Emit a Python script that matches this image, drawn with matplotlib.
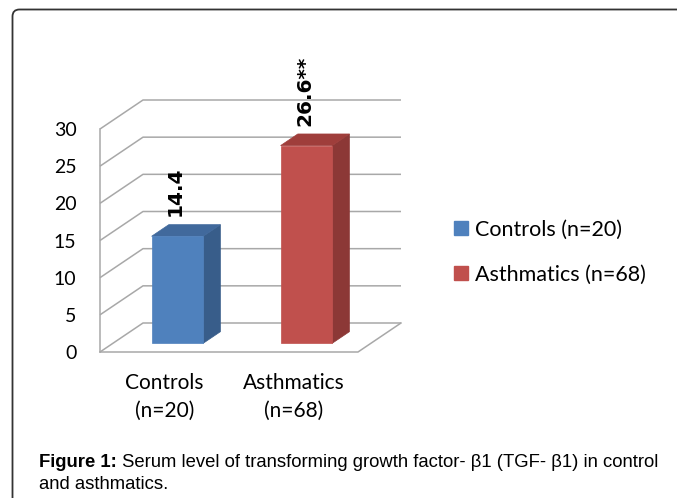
import matplotlib
matplotlib.use("Agg")
import matplotlib.pyplot as plt
from matplotlib.patches import Polygon, Patch
from matplotlib.path import Path
from matplotlib.patches import PathPatch

# ---- data ----
categories = ["Controls\n(n=20)", "Asthmatics\n(n=68)"]
series_names = ["Controls (n=20)", "Asthmatics (n=68)"]
values = [14.4, 26.6]
value_labels = ["14.4", "26.6**"]
yticks = [0, 5, 10, 15, 20, 25, 30]
caption_bold = "Figure 1:"
caption_rest = " Serum level of transforming growth factor- β1 (TGF- β1) in control"
caption_line2 = "and asthmatics."

# ---- style ----
front_col = ["#4f81bd", "#c0504d"]
side_col = ["#385d8a", "#8c3836"]
top_col = ["#41699c", "#9f3e3b"]
grid_col = "#a8a8a8"
chart_font = "Lato"

W, H = 677, 498
fig = plt.figure(figsize=(W / 100, H / 100), dpi=100)

# axes = front plane of the pseudo-3D plot
left_px, right_px, bot_px, top_px = 100, 358, 352, 129
ax = fig.add_axes([left_px / W, 1 - bot_px / H, (right_px - left_px) / W, (bot_px - top_px) / H])
ax.set_xlim(0, 2)
ax.set_ylim(0, 30)

px_per_x = (right_px - left_px) / 2.0
px_per_y = (bot_px - top_px) / 30.0
DX = 43 / px_per_x   # depth shift in x units
DY = 29 / px_per_y   # depth shift in value units


def P(x, v, d):
    return (x + d * DX, v + d * DY)


# walls / grid
lw = 1.1
for v in yticks:
    xs, ys = zip(P(0, v, 0), P(0, v, 1), P(2, v, 1))
    ax.plot(xs, ys, color=grid_col, lw=lw, clip_on=False, zorder=1, solid_capstyle="butt")
xs, ys = zip(P(0, 0, 0), P(0, yticks[-1], 0))
ax.plot(xs, ys, color=grid_col, lw=lw, clip_on=False, zorder=1)
xs, ys = zip(P(0, 0, 0), P(2, 0, 0), P(2, 0, 1))
ax.plot(xs, ys, color=grid_col, lw=lw, clip_on=False, zorder=1)

# bars
w = 0.4
d0, d1 = 0.3, 0.7
centers = [0.5, 1.5]
for i, (c, v) in enumerate(zip(centers, values)):
    xl, xr = c - w / 2, c + w / 2
    front = [P(xl, 0, d0), P(xr, 0, d0), P(xr, v, d0), P(xl, v, d0)]
    side = [P(xr, 0, d0), P(xr, 0, d1), P(xr, v, d1), P(xr, v, d0)]
    top = [P(xl, v, d0), P(xr, v, d0), P(xr, v, d1), P(xl, v, d1)]
    for poly, col in [(side, side_col[i]), (top, top_col[i]), (front, front_col[i])]:
        ax.add_patch(Polygon(poly, closed=True, facecolor=col, edgecolor=col, lw=0.5,
                             clip_on=False, zorder=3))
    lx = P(c, v, d0)[0] - 0.015
    ly = P(c, v, d1)[1]
    ax.annotate(value_labels[i], xy=(lx, ly), xytext=(0, 6), textcoords="offset points",
                rotation=90, ha="center", va="bottom", fontsize=14.5, fontweight="bold",
                family="DejaVu Sans", color="black", annotation_clip=False, zorder=5)

# ticks
for s in ax.spines.values():
    s.set_visible(False)
ax.set_yticks(yticks)
ax.set_yticklabels([str(t) for t in yticks], fontsize=14, family=chart_font)
ax.set_xticks(centers)
ax.set_xticklabels(categories, fontsize=15, family=chart_font, linespacing=1.5)
ax.tick_params(axis="y", length=0, pad=17)
ax.tick_params(axis="x", length=0, pad=15)
ax.patch.set_visible(False)

# legend
handles = [Patch(facecolor=front_col[i], edgecolor=front_col[i]) for i in range(2)]
fig.legend(handles, series_names, loc="center left",
           bbox_to_anchor=(435 / W, 1 - 252 / H), frameon=False,
           prop={"family": chart_font, "size": 15.5},
           handlelength=0.65, handleheight=0.65, handletextpad=0.3, labelspacing=1.15)

# border (rounded top-left)
bx, by = 12.5, 9.5
r = 7
verts = [(bx / W, 0), (bx / W, 1 - (by + r) / H), (bx / W, 1 - by / H), ((bx + r) / W, 1 - by / H), (1, 1 - by / H)]
codes = [Path.MOVETO, Path.LINETO, Path.CURVE3, Path.CURVE3, Path.LINETO]
fig.patches.append(PathPatch(Path(verts, codes), transform=fig.transFigure, fill=False,
                             edgecolor="#333333", lw=1.3))

# caption
cap_size = 13.3
t1 = fig.text(39 / W, 1 - 462 / H, caption_bold, fontsize=cap_size, fontweight="bold",
              family="Liberation Sans", va="center", ha="left")
fig.canvas.draw()
bb = t1.get_window_extent()
fig.text(bb.x1 / W, 1 - 462 / H, caption_rest, fontsize=cap_size, family="Liberation Sans",
         va="center", ha="left")
fig.text(39 / W, 1 - 484 / H, caption_line2, fontsize=cap_size, family="Liberation Sans",
         va="center", ha="left")

fig.savefig("out.png", dpi=100)
